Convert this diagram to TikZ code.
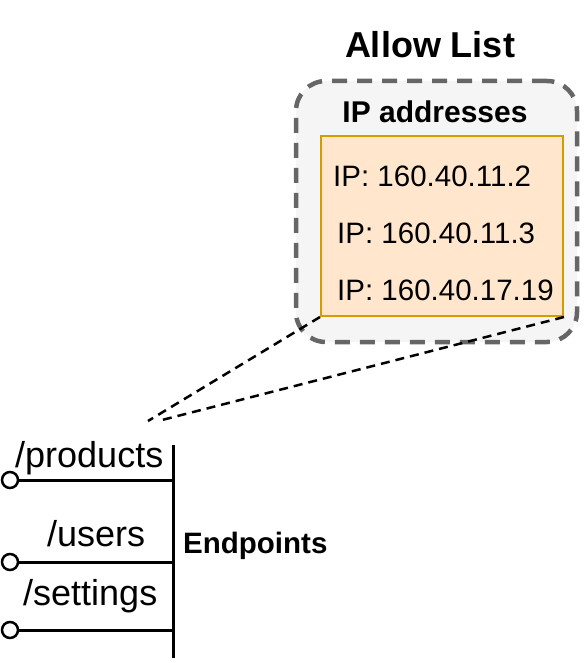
\documentclass[tikz,border=0pt]{standalone}
\usepackage{fontspec}
\setmainfont{Liberation Sans}
\usepackage{tikz}
\usetikzlibrary{arrows.meta}

\definecolor{boxgray}{HTML}{F5F5F5}
\definecolor{dashgray}{HTML}{666666}
\definecolor{ipfill}{HTML}{FFE6CC}
\definecolor{ipdraw}{HTML}{D79B00}

\begin{document}
\begin{tikzpicture}[x=1pt,y=-1pt]
 \useasboundingbox (0,0) rectangle (588,663);
 \tikzset{
   % the outer allow list container
   allowbox/.style={draw=dashgray,fill=boxgray,line width=4.5pt,
     dash pattern=on 15pt off 10pt,rounded corners=30pt},
   ipbox/.style={draw=ipdraw,fill=ipfill,line width=2pt},
 }
     \tikzstyle{iptext}=[anchor=west,inner sep=0pt,font=\fontsize{29.5}{32}\selectfont]
     \tikzstyle{eplabel}=[anchor=base west,inner sep=0pt,font=\fontsize{36}{40}\selectfont]
     \tikzstyle{port}=[circle,draw,fill=white,line width=2.5pt,minimum size=16pt,inner sep=0pt]
     \tikzstyle{wire}=[draw,line width=3pt,black]
     \tikzstyle{link}=[draw,line width=2.5pt,black,dash pattern=on 9pt off 6pt]

     \node[font=\fontsize{36}{40}\selectfont\bfseries] (title) at (430,45) {Allow List};
     \node[allowbox,minimum width=281pt,minimum height=261pt] (allow) at (436.5,211.5) {};
     \node[font=\fontsize{30}{33}\selectfont\bfseries] (ipt) at (435,112) {IP addresses};
     \node[ipbox,minimum width=242pt,minimum height=180pt] (ips) at (442,226) {};
     \node[iptext] (ip1) at (333,176) {IP: 160.40.11.2};
     \node[iptext] (ip2) at (337,233) {IP: 160.40.11.3};
     \node[iptext] (ip3) at (337,290) {IP: 160.40.17.19};

     % zoom lines down to the endpoints
     \coordinate (z1) at (148,421);
     \coordinate (z2) at (162,420);
     \draw[link] (ips.south west) -- (z1);
     \draw[link] (ips.south east) -- (z2);

     % endpoints bus
     \coordinate (bt) at (173,445);
     \coordinate (bb) at (173,658);
     \coordinate (b1) at (173,480);
     \coordinate (b2) at (173,562);
     \coordinate (b3) at (173,630);
     \node[port] (p1) at (10,480) {};
     \node[port] (p2) at (10,562) {};
     \node[port] (p3) at (10,630) {};
     \draw[wire] (bt) -- (bb);
     \draw[wire] (p1) -- (b1);
     \draw[wire] (p2) -- (b2);
     \draw[wire] (p3) -- (b3);
     \node[eplabel] (products) at (15,467) {/products};
     \node[eplabel] (users) at (47,546) {/users};
     \node[eplabel] (settings) at (23,605) {/settings};
     \node[anchor=west,inner sep=0pt,font=\fontsize{29.5}{32}\selectfont\bfseries] (ep) at (183,546) {Endpoints};
\end{tikzpicture}
\end{document}
